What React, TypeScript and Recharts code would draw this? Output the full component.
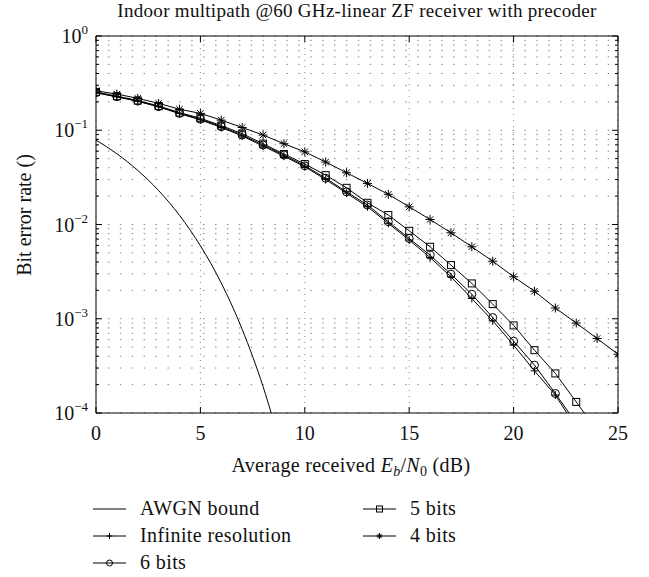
import { LineChart, Line, XAxis, YAxis, CartesianGrid, Legend, Label } from 'recharts'

const FONT = "'Liberation Serif', 'Times New Roman', serif"

// Eb/N0 in dB
const snr = [0, 1, 2, 3, 4, 5, 6, 7, 8, 9, 10, 11, 12, 13, 14, 15, 16, 17, 18, 19, 20, 21, 22, 23, 24, 25]

const awgn = [0.0786, 0.0563, 0.0375, 0.0229, 0.0125, 0.00595, 0.00239, 0.000773, 0.000191, 0.0000336,
  null, null, null, null, null, null, null, null, null, null, null, null, null, null, null, null]
const infinite = [0.25, 0.226, 0.203, 0.177, 0.15, 0.129, 0.107, 0.087, 0.068, 0.053, 0.041, 0.03, 0.0215,
  0.0154, 0.0103, 0.00683, 0.00447, 0.00279, 0.00164, 0.00095, 0.000525, 0.00028, 0.000155, 0.00007, null, null]
const bits6 = [0.25, 0.227, 0.204, 0.178, 0.151, 0.131, 0.109, 0.089, 0.0697, 0.0546, 0.042, 0.031, 0.0222,
  0.0161, 0.0107, 0.00711, 0.00473, 0.00297, 0.00182, 0.00103, 0.000578, 0.000322, 0.000161, 0.000078, null, null]
const bits5 = [0.255, 0.23, 0.207, 0.181, 0.154, 0.134, 0.112, 0.092, 0.072, 0.056, 0.0438, 0.0334, 0.0245,
  0.017, 0.0126, 0.00857, 0.0058, 0.00371, 0.00237, 0.00143, 0.00085, 0.000464, 0.000263, 0.000131, 0.000065, null]
const bits4 = [0.262, 0.242, 0.218, 0.193, 0.167, 0.151, 0.128, 0.107, 0.089, 0.072, 0.059, 0.046, 0.0354,
  0.0273, 0.0209, 0.0154, 0.0113, 0.00817, 0.0058, 0.00408, 0.00279, 0.00196, 0.0013, 0.0009, 0.000617, 0.00042]

const xTicks = [0, 5, 10, 15, 20, 25]
const decades = [0.0001, 0.001, 0.01, 0.1, 1]
const mantissas = [1, 2, 3, 4, 5, 6, 7, 8, 9]
const yTicks = decades.flatMap((d) => (d === 1 ? [1] : mantissas.map((m) => m * d)))

const data = snr.map((x, i) => ({
  snr: x,
  awgn: awgn[i],
  inf: infinite[i],
  b6: bits6[i],
  b5: bits5[i],
  b4: bits4[i],
}))

const isDecade = (v: number) => Math.abs(Math.log10(v) - Math.round(Math.log10(v))) < 1e-6

const txt = { fontFamily: FONT, fill: '#111' }

// markers
const Plus = ({ cx, cy, s = 4 }: any) => (
  <g stroke="#000" strokeWidth={1}>
    <line x1={cx - s} y1={cy} x2={cx + s} y2={cy} />
    <line x1={cx} y1={cy - s} x2={cx} y2={cy + s} />
  </g>
)
const Circ = ({ cx, cy, s = 4 }: any) => <circle cx={cx} cy={cy} r={s} fill="none" stroke="#000" strokeWidth={1} />
const Sq = ({ cx, cy, s = 3.5 }: any) => (
  <rect x={cx - s} y={cy - s} width={2 * s} height={2 * s} fill="none" stroke="#000" strokeWidth={1} />
)
const Star = ({ cx, cy, s = 4.5 }: any) => {
  const d = s * 0.72
  return (
    <g stroke="#000" strokeWidth={1}>
      <line x1={cx - s} y1={cy} x2={cx + s} y2={cy} />
      <line x1={cx} y1={cy - s} x2={cx} y2={cy + s} />
      <line x1={cx - d} y1={cy - d} x2={cx + d} y2={cy + d} />
      <line x1={cx - d} y1={cy + d} x2={cx + d} y2={cy - d} />
    </g>
  )
}

const dotOf = (Shape: any) => (p: any) => {
  if (p.cx == null || p.cy == null || p.value == null) return <g key={p.index} />
  return <Shape key={p.index} cx={p.cx} cy={p.cy} />
}

const BottomTick = ({ x, y, payload }: any) => (
  <g>
    <line x1={x} y1={y} x2={x} y2={y - 6} stroke="#000" />
    <text x={x} y={y + 27} textAnchor="middle" fontSize={20} style={txt}>
      {payload.value}
    </text>
  </g>
)
const TopTick = ({ x, y }: any) => <line x1={x} y1={y} x2={x} y2={y + 6} stroke="#000" />

const LeftTick = ({ x, y, payload }: any) => {
  const major = isDecade(payload.value)
  const exp = Math.round(Math.log10(payload.value))
  return (
    <g>
      <line x1={x} y1={y} x2={x + (major ? 6 : 3)} y2={y} stroke="#000" />
      {major && (
        <text x={x - 8} y={y + 7} textAnchor="end" fontSize={20} style={txt}>
          10
          <tspan dy={-9} fontSize={13}>
            {exp === 0 ? '0' : '\u2212' + Math.abs(exp)}
          </tspan>
        </text>
      )}
    </g>
  )
}
const RightTick = ({ x, y, payload }: any) => (
  <line x1={x} y1={y} x2={x - (isDecade(payload.value) ? 6 : 3)} y2={y} stroke="#000" />
)

const legendRows = [
  { col: 0, row: 0, name: 'AWGN bound', Shape: null },
  { col: 0, row: 1, name: 'Infinite resolution', Shape: Plus },
  { col: 0, row: 2, name: '6 bits', Shape: Circ },
  { col: 1, row: 0, name: '5 bits', Shape: Sq },
  { col: 1, row: 1, name: '4 bits', Shape: Star },
]

const renderLegend = () => (
  <svg width={649} height={87}>
    {legendRows.map((r) => {
      const x0 = r.col === 0 ? 93 : 363
      const cy = 19 + r.row * 27
      const Shape: any = r.Shape
      return (
        <g key={r.name}>
          <line x1={x0} y1={cy} x2={x0 + 33} y2={cy} stroke="#000" />
          {Shape && <Shape cx={x0 + 16.5} cy={cy} s={3} />}
          <text x={x0 + 47} y={cy + 6} fontSize={20} letterSpacing={0.4} style={txt}>
            {r.name}
          </text>
        </g>
      )
    })}
  </svg>
)

export default function App() {
  return (
    <div style={{ position: 'absolute', left: 0, top: 0, background: '#fff' }}>
      <LineChart width={649} height={577} data={data} margin={{ top: 35, right: 30, bottom: 163, left: 95 }}>
        <CartesianGrid vertical={false} stroke="#888" strokeDasharray="1.5 10.4" />
        <CartesianGrid horizontal={false} stroke="#888" strokeDasharray="1 5" />
        <XAxis
          dataKey="snr"
          type="number"
          domain={[0, 25]}
          ticks={xTicks}
          interval={0}
          height={1}
          tickSize={0}
          tickMargin={0}
          tickLine={false}
          tick={<BottomTick />}
          axisLine={{ stroke: '#000' }}
          allowDataOverflow
        >
          <Label
            content={() => (
              <text x={351} y={472} textAnchor="middle" fontSize={20} letterSpacing={0.3} style={txt}>
                Average received <tspan fontStyle="italic">E</tspan>
                <tspan fontStyle="italic" fontSize={14} dy={4}>b</tspan>
                <tspan dy={-4}>/</tspan>
                <tspan fontStyle="italic">N</tspan>
                <tspan fontSize={14} dy={4}>0</tspan>
                <tspan dy={-4}> (dB)</tspan>
              </text>
            )}
          />
        </XAxis>
        <XAxis
          xAxisId="top"
          orientation="top"
          dataKey="snr"
          type="number"
          domain={[0, 25]}
          ticks={xTicks}
          interval={0}
          height={1}
          tickSize={0}
          tickMargin={0}
          tickLine={false}
          tick={<TopTick />}
          axisLine={{ stroke: '#000' }}
        >
          <Label
            content={() => (
              <text x={357} y={17} textAnchor="middle" fontSize={19} letterSpacing={0.3} style={txt}>
                Indoor multipath @60 GHz-linear ZF receiver with precoder
              </text>
            )}
          />
        </XAxis>
        <YAxis
          type="number"
          scale="log"
          domain={[0.0001, 1]}
          ticks={yTicks}
          interval={0}
          width={1}
          tickSize={0}
          tickMargin={0}
          tickLine={false}
          tick={<LeftTick />}
          axisLine={{ stroke: '#000' }}
          allowDataOverflow
        >
          <Label
            content={() => (
              <text transform="translate(31 215) rotate(-90)" textAnchor="middle" fontSize={20} style={txt}>
                Bit error rate ()
              </text>
            )}
          />
        </YAxis>
        <YAxis
          yAxisId="right"
          orientation="right"
          type="number"
          scale="log"
          domain={[0.0001, 1]}
          ticks={yTicks}
          interval={0}
          width={1}
          tickSize={0}
          tickMargin={0}
          tickLine={false}
          tick={<RightTick />}
          axisLine={{ stroke: '#000' }}
          allowDataOverflow
        />
        <Legend
          content={renderLegend}
          layout="vertical"
          align="center"
          verticalAlign="middle"
          wrapperStyle={{ left: 0, top: 490, width: 649, height: 87 }}
        />
        <Line dataKey="awgn" type="monotone" stroke="#000" strokeWidth={1} dot={false} activeDot={false} isAnimationActive={false} />
        <Line dataKey="inf" type="linear" stroke="#000" strokeWidth={1} dot={dotOf(Plus)} activeDot={false} isAnimationActive={false} />
        <Line dataKey="b6" type="linear" stroke="#000" strokeWidth={1} dot={dotOf(Circ)} activeDot={false} isAnimationActive={false} />
        <Line dataKey="b5" type="linear" stroke="#000" strokeWidth={1} dot={dotOf(Sq)} activeDot={false} isAnimationActive={false} />
        <Line dataKey="b4" type="linear" stroke="#000" strokeWidth={1} dot={dotOf(Star)} activeDot={false} isAnimationActive={false} />
      </LineChart>
    </div>
  )
}
